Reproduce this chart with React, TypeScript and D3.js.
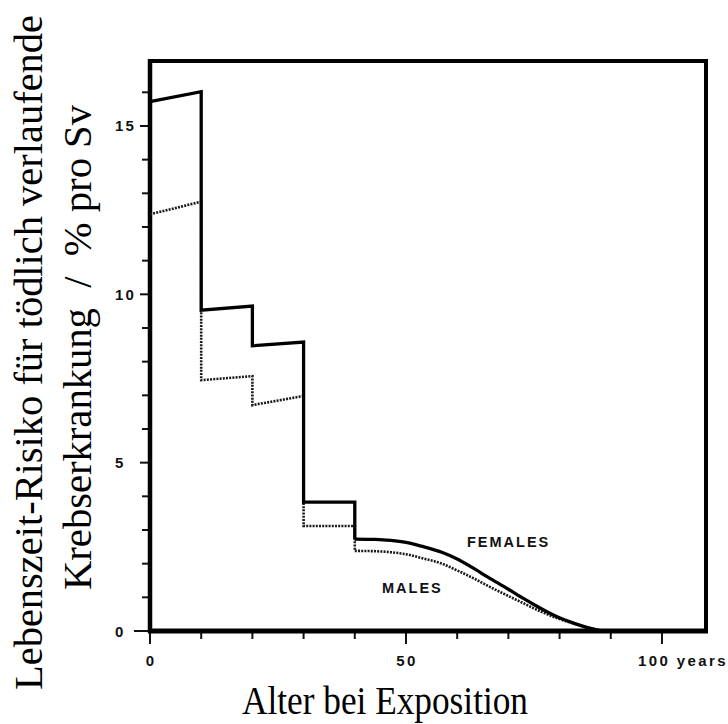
import React from "react";
import * as d3 from "d3";

// ---- data ----
const stepAges = [0, 10, 20, 30, 40];
const femaleStepStart = [15.72, 9.53, 8.47, 3.83];
const femaleStepEnd = [16.02, 9.65, 8.58, 3.83];
const maleStepStart = [12.38, 7.45, 6.71, 3.12];
const maleStepEnd = [12.75, 7.57, 6.98, 3.12];

const tailAges = [40, 44, 47, 50, 53, 57, 60, 63, 66, 70, 73, 76, 79, 83, 86, 88.5];
const femaleTail = [2.73, 2.72, 2.69, 2.63, 2.52, 2.34, 2.14, 1.88, 1.6, 1.24, 0.96, 0.7, 0.46, 0.22, 0.08, 0];
const maleTail = [2.38, 2.37, 2.34, 2.28, 2.17, 2.0, 1.8, 1.58, 1.34, 1.04, 0.82, 0.6, 0.41, 0.21, 0.09, 0];

const yTickLabels = ["0", "5", "10", "15"];
const xTickLabels = ["0", "50", "100 years"];
const seriesLabels = ["FEMALES", "MALES"];
const yTitle1 = "Lebenszeit-Risiko für tödlich verlaufende";
const yTitle2 = "Krebserkrankung  /  % pro Sv";
const xTitle = "Alter bei Exposition";

const W = 728;
const H = 724;

function stepPoints(starts: number[], ends: number[], tailStart: number): [number, number][] {
  const pts: [number, number][] = [];
  for (let i = 0; i < starts.length; i++) {
    pts.push([stepAges[i], starts[i]]);
    pts.push([stepAges[i + 1], ends[i]]);
  }
  pts.push([stepAges[stepAges.length - 1], tailStart]);
  return pts;
}

export default function App() {
  const x = d3.scaleLinear().domain([0, 108.6]).range([150, 706]);
  const y = d3.scaleLinear().domain([0, 16.93]).range([631, 61]);

  const lin = d3
    .line<[number, number]>()
    .x((d) => x(d[0]))
    .y((d) => y(d[1]));
  const smooth = d3
    .line<[number, number]>()
    .x((d) => x(d[0]))
    .y((d) => y(d[1]))
    .curve(d3.curveMonotoneX);

  const femaleSteps = stepPoints(femaleStepStart, femaleStepEnd, femaleTail[0]);
  const maleSteps = stepPoints(maleStepStart, maleStepEnd, maleTail[0]);
  const femaleT = tailAges.map((a, i) => [a, femaleTail[i]] as [number, number]);
  const maleT = tailAges.map((a, i) => [a, maleTail[i]] as [number, number]);

  const yTicks = d3.range(0, 17, 1);
  const xTicks = d3.range(0, 101, 10);
  const tickFont = "Arial, 'Liberation Sans', Helvetica, sans-serif";
  const serif = "'Liberation Serif', 'Times New Roman', serif";

  return (
    <svg
      width={W}
      height={H}
      style={{ position: "absolute", left: 0, top: 0, background: "#fff" }}
    >
      <rect x={0} y={0} width={W} height={H} fill="#fff" />

      {/* y ticks */}
      {yTicks.map((t) => (
        <line
          key={"yt" + t}
          x1={x(0) - (t % 5 === 0 ? (t === 0 ? 16 : 10) : 8)}
          x2={x(0)}
          y1={y(t)}
          y2={y(t)}
          stroke="#111"
          strokeWidth={2}
        />
      ))}
      {yTickLabels.map((l) => (
        <text
          key={"yl" + l}
          x={115}
          y={y(+l) + 5.5}
          fontFamily={tickFont}
          fontWeight="bold"
          fontSize={15}
          letterSpacing={2.2}
          fill="#111"
        >
          {l}
        </text>
      ))}

      {/* x ticks */}
      {xTicks.map((t) => (
        <line
          key={"xt" + t}
          x1={x(t)}
          x2={x(t)}
          y1={y(0)}
          y2={y(0) + (t % 50 === 0 ? 13 : 8)}
          stroke="#111"
          strokeWidth={2}
        />
      ))}
      {xTickLabels.map((l) => {
        const v = parseFloat(l);
        const isLast = l.indexOf("years") >= 0;
        return (
          <text
            key={"xl" + l}
            x={isLast ? x(v) - 24 : x(v) + 1}
            y={666}
            textAnchor={isLast ? "start" : "middle"}
            fontFamily={tickFont}
            fontWeight="bold"
            fontSize={15}
            letterSpacing={2.4}
            fill="#111"
          >
            {l}
          </text>
        );
      })}

      {/* frame */}
      <line x1={x(0)} x2={x(108.6)} y1={y(16.93)} y2={y(16.93)} stroke="#000" strokeWidth={4} />
      <line x1={x(108.6)} x2={x(108.6)} y1={y(16.93) - 2} y2={y(0) + 2} stroke="#000" strokeWidth={4} />
      <line x1={x(0)} x2={x(0)} y1={y(16.93) - 2} y2={y(0) + 2} stroke="#000" strokeWidth={4.5} />
      <line x1={x(0) - 2} x2={x(108.6) + 2} y1={y(0)} y2={y(0)} stroke="#000" strokeWidth={5} />

      {/* males (dotted) */}
      <path d={lin(maleSteps) || ""} fill="none" stroke="#1a1a1a" strokeWidth={2.6} strokeDasharray="2 1.2" />
      <path d={smooth(maleT) || ""} fill="none" stroke="#1a1a1a" strokeWidth={2.6} strokeDasharray="2 1.2" />

      {/* females (solid) */}
      <path d={lin(femaleSteps) || ""} fill="none" stroke="#000" strokeWidth={3.3} strokeLinejoin="miter" />
      <path d={smooth(femaleT) || ""} fill="none" stroke="#000" strokeWidth={3.3} />

      {/* series labels */}
      <text x={467} y={547} fontFamily={tickFont} fontWeight="bold" fontSize={14.5} letterSpacing={2} fill="#111">
        {seriesLabels[0]}
      </text>
      <text x={382} y={593} fontFamily={tickFont} fontWeight="bold" fontSize={14.5} letterSpacing={2} fill="#111">
        {seriesLabels[1]}
      </text>

      {/* axis titles */}
      <text
        transform="translate(42,690) rotate(-90)"
        fontFamily={serif}
        fontSize={40}
        textLength={675}
        lengthAdjust="spacingAndGlyphs"
        fill="#000"
      >
        {yTitle1}
      </text>
      <text
        transform="translate(91,590) rotate(-90)"
        fontFamily={serif}
        fontSize={40}
        textLength={485}
        lengthAdjust="spacingAndGlyphs"
        fill="#000"
        style={{ whiteSpace: "pre" }}
      >
        {yTitle2}
      </text>
      <text
        x={242}
        y={714}
        fontFamily={serif}
        fontSize={39}
        textLength={286}
        lengthAdjust="spacingAndGlyphs"
        fill="#000"
      >
        {xTitle}
      </text>
    </svg>
  );
}
